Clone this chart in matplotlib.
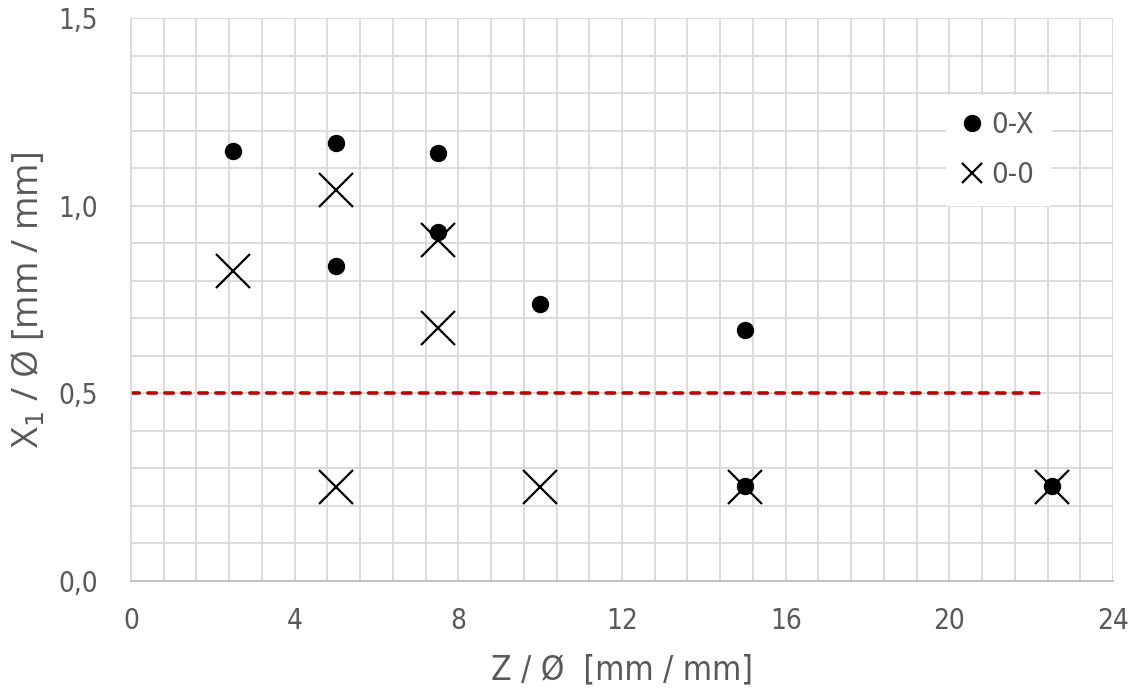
import matplotlib
matplotlib.use("Agg")
import matplotlib.pyplot as plt
from matplotlib import font_manager as fm
from matplotlib.lines import Line2D
from matplotlib.ticker import MultipleLocator, FuncFormatter

# ============================================
# Data
# ============================================

dots_x = [2.5, 5.0, 7.5, 5.0, 7.5, 10.0, 15.0, 15.0, 22.5]
dots_y = [1.146, 1.167, 1.140, 0.839, 0.930, 0.738, 0.669, 0.253, 0.253]

cross_x = [2.5, 5.0, 7.5, 7.5, 5.0, 10.0, 15.0, 22.5]
cross_y = [0.826, 1.042, 0.909, 0.674, 0.250, 0.250, 0.250, 0.250]

limit_x = [0.0, 22.35]
limit_y = [0.5, 0.5]

x_ticks = [0, 4, 8, 12, 16, 20, 24]
y_ticks = [0.0, 0.5, 1.0, 1.5]

# ============================================
# Fonts: a narrow face if one is installed
# ============================================

def find_narrow_font(size):
    for f in fm.fontManager.ttflist:
        if ("Narrow" in f.name or f.stretch in ("condensed", "semi-condensed")) \
                and f.style == "normal" and f.weight in (400, "normal", "regular"):
            return fm.FontProperties(fname=f.fname, size=size)
    return fm.FontProperties(family="Lato", size=size)


tick_font = find_narrow_font(20)
label_font = find_narrow_font(24)
legend_font = find_narrow_font(21)

text_color = "#595959"
grid_color = "#d9d9d9"

# ============================================
# Figure
# ============================================

fig = plt.figure(figsize=(11.37, 6.94), dpi=100)
ax = fig.add_axes([0.1152, 0.1628, 0.8637, 0.8112])

ax.plot(limit_x, limit_y, color="#c00000", linewidth=2.6,
        dashes=(2.3, 2.4), dash_capstyle="round", zorder=2)

ax.plot(dots_x, dots_y, linestyle="none", marker="o", markersize=11.5,
        color="black", zorder=4)
ax.plot(cross_x, cross_y, linestyle="none", marker="x", markersize=25,
        markeredgewidth=1.6, color="black", zorder=3)

ax.set_xlim(0, 24)
ax.set_ylim(0, 1.5)

ax.set_xticks(x_ticks)
ax.set_yticks(y_ticks)
ax.xaxis.set_minor_locator(MultipleLocator(0.8))
ax.yaxis.set_minor_locator(MultipleLocator(0.1))
ax.yaxis.set_major_formatter(FuncFormatter(lambda v, p: f"{v:.1f}".replace(".", ",")))

ax.grid(True, which="both", color=grid_color, linewidth=1.3, zorder=0)
ax.set_axisbelow(True)
ax.tick_params(which="both", length=0)
ax.tick_params(axis="x", pad=19, labelcolor=text_color)
ax.tick_params(axis="y", pad=24, labelcolor=text_color)
for lbl in ax.get_xticklabels() + ax.get_yticklabels():
    lbl.set_fontproperties(tick_font)

for side in ["top", "right"]:
    ax.spines[side].set_visible(False)
ax.spines["bottom"].set_color("#bfbfbf")
ax.spines["left"].set_color(grid_color)
ax.spines["bottom"].set_linewidth(1.3)
ax.spines["left"].set_linewidth(1.3)

ax.set_xlabel("Z / Ø  [mm / mm]", fontproperties=label_font,
              color=text_color, labelpad=13)
ax.set_ylabel("X$_1$ / Ø [mm / mm]", fontsize=26, color=text_color,
              family="Open Sans", labelpad=8)

handles = [
    Line2D([], [], linestyle="none", marker="o", markersize=11.5, color="black"),
    Line2D([], [], linestyle="none", marker="x", markersize=14,
           markeredgewidth=1.6, color="black"),
]
leg = ax.legend(handles, ["0-X", "0-0"], loc="upper right",
                bbox_to_anchor=(0.936, 0.863), frameon=True, fancybox=False,
                edgecolor="white", facecolor="white", framealpha=1,
                prop=legend_font, handlelength=0.7, handletextpad=0.3,
                labelspacing=0.75, borderpad=0.55, borderaxespad=0)
for t in leg.get_texts():
    t.set_color(text_color)

fig.savefig("out.png", dpi=100)
plt.close(fig)
